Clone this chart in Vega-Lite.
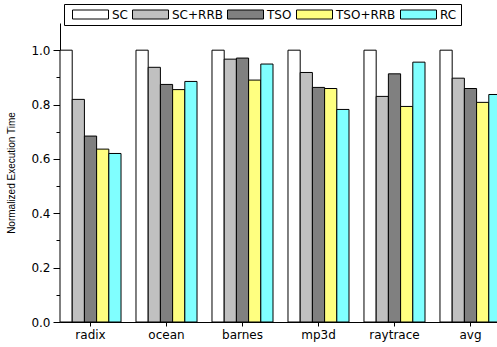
{
  "$schema": "https://vega.github.io/schema/vega-lite/v6.json",
  "autosize": "none",
  "padding": {"left": 60, "top": 23, "right": 0, "bottom": 25},
  "width": 441,
  "height": 299,
  "config": {
    "view": {"stroke": null},
    "axis": {"grid": false, "domainColor": "black", "tickColor": "black", "labelColor": "black", "titleColor": "black", "labelFont": "DejaVu Sans", "labelFontSize": 12}
  },
  "data": {
    "values": [
      {"bench": "radix", "cfg": "SC", "value": 1.0},
      {"bench": "radix", "cfg": "SC+RRB", "value": 0.819},
      {"bench": "radix", "cfg": "TSO", "value": 0.684},
      {"bench": "radix", "cfg": "TSO+RRB", "value": 0.636},
      {"bench": "radix", "cfg": "RC", "value": 0.620},
      {"bench": "ocean", "cfg": "SC", "value": 1.0},
      {"bench": "ocean", "cfg": "SC+RRB", "value": 0.937},
      {"bench": "ocean", "cfg": "TSO", "value": 0.874},
      {"bench": "ocean", "cfg": "TSO+RRB", "value": 0.855},
      {"bench": "ocean", "cfg": "RC", "value": 0.885},
      {"bench": "barnes", "cfg": "SC", "value": 1.0},
      {"bench": "barnes", "cfg": "SC+RRB", "value": 0.967},
      {"bench": "barnes", "cfg": "TSO", "value": 0.971},
      {"bench": "barnes", "cfg": "TSO+RRB", "value": 0.890},
      {"bench": "barnes", "cfg": "RC", "value": 0.949},
      {"bench": "mp3d", "cfg": "SC", "value": 1.0},
      {"bench": "mp3d", "cfg": "SC+RRB", "value": 0.918},
      {"bench": "mp3d", "cfg": "TSO", "value": 0.863},
      {"bench": "mp3d", "cfg": "TSO+RRB", "value": 0.859},
      {"bench": "mp3d", "cfg": "RC", "value": 0.782},
      {"bench": "raytrace", "cfg": "SC", "value": 1.0},
      {"bench": "raytrace", "cfg": "SC+RRB", "value": 0.830},
      {"bench": "raytrace", "cfg": "TSO", "value": 0.913},
      {"bench": "raytrace", "cfg": "TSO+RRB", "value": 0.793},
      {"bench": "raytrace", "cfg": "RC", "value": 0.956},
      {"bench": "avg", "cfg": "SC", "value": 1.0},
      {"bench": "avg", "cfg": "SC+RRB", "value": 0.897},
      {"bench": "avg", "cfg": "TSO", "value": 0.859},
      {"bench": "avg", "cfg": "TSO+RRB", "value": 0.808},
      {"bench": "avg", "cfg": "RC", "value": 0.837}
    ]
  },
  "encoding": {
    "x": {"field": "bench", "type": "nominal", "sort": ["radix", "ocean", "barnes", "mp3d", "raytrace", "avg"],
          "scale": {"paddingInner": 0.197, "paddingOuter": 0}},
    "xOffset": {"field": "cfg", "type": "nominal", "sort": ["SC", "SC+RRB", "TSO", "TSO+RRB", "RC"],
                "scale": {"paddingInner": 0, "paddingOuter": 0}},
    "y": {"field": "value", "type": "quantitative", "scale": {"domain": [0, 1.1], "nice": false, "zero": true}},
    "color": {"field": "cfg", "type": "nominal",
              "scale": {"domain": ["SC", "SC+RRB", "TSO", "TSO+RRB", "RC"], "range": ["#FFFFFF", "#C0C0C0", "#808080", "#FFFF80", "#80FFFF"]}}
  },
  "layer": [
    {
      "mark": {"type": "bar", "stroke": "black", "strokeWidth": 1, "opacity": 1},
      "encoding": {
        "x": {"field": "bench", "type": "nominal", "sort": ["radix", "ocean", "barnes", "mp3d", "raytrace", "avg"],
              "axis": {"title": null, "labelAngle": 0, "tickSize": 4, "labelPadding": 3, "domainWidth": 1}},
        "y": {"field": "value", "type": "quantitative",
              "axis": {"title": "Normalized Execution Time", "titleFont": "Liberation Sans", "titleFontSize": 10, "titleFontWeight": "normal",
                       "values": [0, 0.2, 0.4, 0.6, 0.8, 1.0], "format": ".1f", "tickSize": 7, "labelPadding": 3, "titlePadding": 14}},
        "color": {"field": "cfg", "type": "nominal",
                  "legend": {"orient": "none", "legendX": 4, "legendY": -19, "direction": "horizontal", "title": null,
                             "strokeColor": "black", "fillColor": "white", "padding": 4, "cornerRadius": 0,
                             "symbolType": "M-3,-0.75H3V0.75H-3Z", "symbolSize": 144, "symbolOffset": 16,
                             "symbolStrokeColor": "black", "symbolStrokeWidth": 1, "symbolOpacity": 1,
                             "labelFont": "DejaVu Sans", "labelFontSize": 12, "labelFontWeight": "normal", "labelColor": "black", "labelOffset": 15,
                             "columnPadding": 0}}
      }
    },
    {
      "mark": {"type": "bar", "opacity": 0},
      "encoding": {
        "x": {"field": "bench", "type": "nominal", "sort": ["radix", "ocean", "barnes", "mp3d", "raytrace", "avg"],
              "axis": {"title": null, "labels": false, "domain": false, "tickSize": 4, "bandPosition": -0.123,
                       "values": ["ocean", "barnes", "mp3d", "raytrace", "avg"]}},
        "y": {"field": "value", "type": "quantitative",
              "axis": {"orient": "left", "title": null, "labels": false, "domain": false, "tickSize": 4,
                       "values": [0.1, 0.3, 0.5, 0.7, 0.9]}},
        "color": {"field": "cfg", "type": "nominal", "legend": null}
      }
    }
  ],
  "resolve": {"axis": {"x": "independent", "y": "independent"}}
}
